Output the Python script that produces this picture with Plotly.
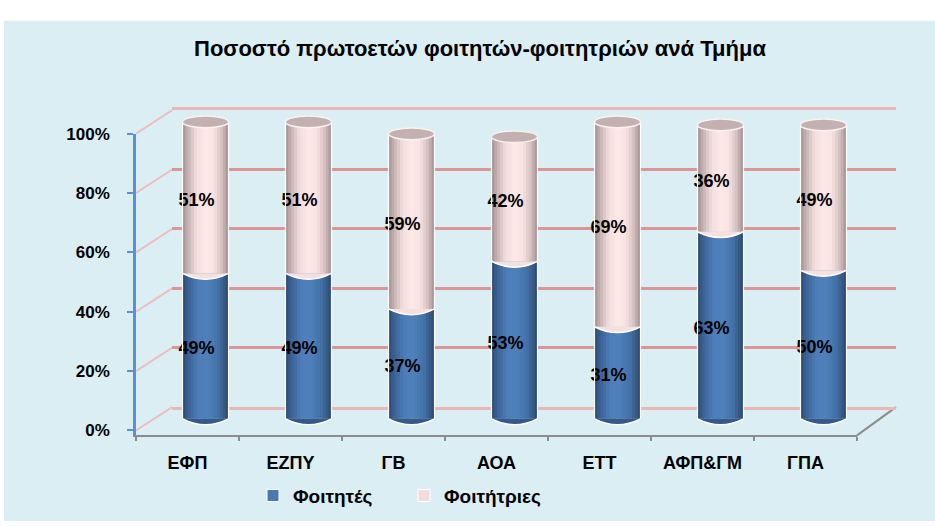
import plotly.graph_objects as go

# ---------------- data ----------------
categories = ["ΕΦΠ", "ΕΖΠΥ", "ΓΒ", "ΑΟΑ", "ΕΤΤ", "ΑΦΠ&ΓΜ", "ΓΠΑ"]
male = [0.49, 0.49, 0.37, 0.53, 0.31, 0.63, 0.50]     # Φοιτητές
female = [0.51, 0.51, 0.59, 0.42, 0.69, 0.36, 0.49]   # Φοιτήτριες
y_ticks = [0, 0.2, 0.4, 0.6, 0.8, 1.0]
title_text = "Ποσοστό πρωτοετών φοιτητών-φοιτητριών ανά Τμήμα"
series_names = ["Φοιτητές", "Φοιτήτριες"]

# ---------------- geometry helpers ----------------
W, H = 935, 526
FONT = "Liberation Sans, Arial, sans-serif"


def px(x):
    return x / W


def py(y):
    return 1 - y / H


SCALE = 305.0  # pixels per 100%


def ydomain(y0px, r0, r1):
    bottom = y0px - r0 * SCALE
    top = y0px - r1 * SCALE
    return [py(bottom), py(top)]


def gradient(stops, n):
    """stops: list of (pos, hex); returns n colours sampled at strip centres"""
    def h2rgb(h):
        h = h.lstrip("#")
        return [int(h[k:k + 2], 16) for k in (0, 2, 4)]
    out = []
    for i in range(n):
        t = (i + 0.5) / n
        for (p0, c0), (p1, c1) in zip(stops[:-1], stops[1:]):
            if p0 <= t <= p1:
                a = (t - p0) / (p1 - p0)
                r0, r1 = h2rgb(c0), h2rgb(c1)
                out.append("rgb(%d,%d,%d)" % tuple(round(r0[k] + (r1[k] - r0[k]) * a) for k in range(3)))
                break
    return out


BAR_W = 0.447          # in category units
CAP_H = 12 / SCALE     # ellipse height in value units
NSTRIP = 16
blue_grad = gradient([(0, "#2b4a72"), (0.12, "#3b6294"), (0.35, "#4d7eb9"), (0.55, "#4f80bb"),
                      (0.78, "#4370a6"), (0.92, "#35587f"), (1, "#2a466a")], NSTRIP)
pink_grad = gradient([(0, "#a38f8f"), (0.12, "#c6b2b2"), (0.3, "#f2dcdc"), (0.5, "#fee9e9"),
                      (0.68, "#f8e2e2"), (0.85, "#d6c1c1"), (1, "#a18e8e")], NSTRIP)

fig = go.Figure()

# placeholder trace so that the back-wall subplot is drawn
fig.add_trace(go.Scatter(x=[None], y=[None], xaxis="x", yaxis="y", showlegend=False,
                         hoverinfo="skip", mode="markers"))

# legend entries
fig.add_trace(go.Bar(x=[None], y=[None], name=series_names[0], xaxis="x2", yaxis="y2",
                     marker=dict(color="#4a78b4", line=dict(color="white", width=1))))
fig.add_trace(go.Bar(x=[None], y=[None], name=series_names[1], xaxis="x2", yaxis="y2",
                     marker=dict(color="#f2dcdb", line=dict(color="white", width=1))))

# cylinder bodies as vertical gradient strips
sw = BAR_W / NSTRIP
for vals, base, grad in [(male, None, blue_grad), (female, male, pink_grad)]:
    for i in range(NSTRIP):
        fig.add_trace(go.Bar(
            x=categories, y=vals, base=base,
            offset=-BAR_W / 2 + i * sw,
            width=sw * 1.5 if i < NSTRIP - 1 else sw,
            marker=dict(color=grad[i], line=dict(width=0)),
            xaxis="x2", yaxis="y2", showlegend=False, hoverinfo="skip"))

# placeholder trace for the front axes subplot
fig.add_trace(go.Scatter(x=categories, y=[None] * len(categories), xaxis="x3", yaxis="y3",
                         showlegend=False, hoverinfo="skip", mode="markers"))

# data labels
fig.add_trace(go.Scatter(
    x=categories, y=[m / 2 for m in male], mode="text",
    text=[f"{round(m * 100)}%" for m in male],
    textfont=dict(family=FONT, size=18, color="black", weight="bold"),
    xaxis="x4", yaxis="y4", showlegend=False, hoverinfo="skip"))
fig.add_trace(go.Scatter(
    x=categories, y=[m + f / 2 for m, f in zip(male, female)], mode="text",
    text=[f"{round(f * 100)}%" for f in female],
    textfont=dict(family=FONT, size=18, color="black", weight="bold"),
    xaxis="x4", yaxis="y4", showlegend=False, hoverinfo="skip"))

shapes = []
# chart background box
shapes.append(dict(type="rect", xref="paper", yref="paper", x0=px(4), x1=1, y0=0, y1=py(12),
                   fillcolor="#dbeef4", line=dict(width=0), layer="below"))
# side wall gridlines (front tick -> back wall)
for v in y_ticks:
    shapes.append(dict(type="line", xref="paper", yref="paper",
                       x0=px(136), y0=py(433 - v * SCALE), x1=px(172), y1=py(409 - v * SCALE),
                       line=dict(color="#efbdbd", width=2), layer="below"))
# floor right edge
shapes.append(dict(type="line", xref="paper", yref="paper",
                   x0=px(857), y0=py(438), x1=px(896), y1=py(409),
                   line=dict(color="#8c8c8c", width=2), layer="below"))

# cylinder caps and edges
for i, (m, f) in enumerate(zip(male, female)):
    xl, xr = i - BAR_W / 2, i + BAR_W / 2
    top = m + f
    hh = CAP_H / 2
    # bottom lens
    shapes.append(dict(type="path", xref="x2", yref="y2",
                       path=f"M{xl},0 Q{i},{-2 * hh} {xr},0 Z",
                       fillcolor="#36598a", line=dict(width=0), layer="above"))
    shapes.append(dict(type="path", xref="x2", yref="y2",
                       path=f"M{xl},0 Q{i},{-2 * hh} {xr},0",
                       line=dict(color="white", width=1.5), layer="above"))
    # boundary lens between series
    shapes.append(dict(type="path", xref="x2", yref="y2",
                       path=f"M{xl},{m} Q{i},{m - 2 * hh} {xr},{m} Z",
                       fillcolor="#f5e0e0", line=dict(width=0), layer="above"))
    shapes.append(dict(type="path", xref="x2", yref="y2",
                       path=f"M{xl},{m} Q{i},{m - 2 * hh} {xr},{m}",
                       line=dict(color="white", width=1.5), layer="above"))
    # side edges
    for xe in (xl, xr):
        shapes.append(dict(type="line", xref="x2", yref="y2", x0=xe, x1=xe, y0=0, y1=top,
                           line=dict(color="white", width=1.2), layer="above"))
    # top ellipse
    shapes.append(dict(type="circle", xref="x2", yref="y2",
                       x0=xl, x1=xr, y0=top - hh, y1=top + hh,
                       fillcolor="#c3b0b0", line=dict(color="#fbf1f1", width=1.5), layer="above"))

axis_font = dict(family=FONT, size=17, color="black", weight="bold")
cat_font = dict(family=FONT, size=18, color="black", weight="bold")

fig.update_layout(
    width=W, height=H,
    margin=dict(l=0, r=0, t=0, b=0),
    paper_bgcolor="white", plot_bgcolor="rgba(0,0,0,0)",
    barmode="overlay",
    title=dict(text=title_text, x=px(480), y=py(48), xanchor="center", yanchor="middle",
               font=dict(family=FONT, size=22, color="black", weight="bold")),
    showlegend=True,
    legend=dict(orientation="h", x=px(253), xanchor="left", y=py(500), yanchor="middle",
                font=dict(family=FONT, size=19, color="black", weight="bold"),
                bgcolor="rgba(0,0,0,0)", entrywidth=106, entrywidthmode="pixels"),
    shapes=shapes,
    # back wall grid
    xaxis=dict(domain=[px(172), px(896)], range=[0, 1], showgrid=False, zeroline=False,
               showticklabels=False, ticks="", showline=True, mirror=True,
               linecolor="#ebb6b6", linewidth=3, fixedrange=True),
    yaxis=dict(domain=[py(409), py(104)], range=[0, 1], tickvals=y_ticks, showgrid=True,
               gridcolor="#d99694", gridwidth=3, zeroline=False, showticklabels=False,
               ticks="", showline=False, fixedrange=True),
    # bars
    xaxis2=dict(domain=[px(154), px(875)], range=[-0.5, 6.5], anchor="y2", visible=False,
                type="category", categoryorder="array", categoryarray=categories),
    yaxis2=dict(domain=ydomain(421, -0.05, 1.05), range=[-0.05, 1.05], anchor="x2", visible=False),
    # front axes
    xaxis3=dict(domain=[px(136), px(857)], range=[-0.5, 6.5], anchor="y3", type="category",
                categoryorder="array", categoryarray=categories, tickvals=categories,
                tickson="boundaries", ticks="outside", ticklen=4, tickcolor="#8c8c8c", tickwidth=2,
                showline=True, linecolor="#8c8c8c", linewidth=2, showgrid=False,
                tickfont=cat_font, ticklabelstandoff=10),
    yaxis3=dict(domain=[py(438), py(128)], range=[-5 / SCALE, 1], anchor="x3", tickvals=y_ticks,
                tickformat=".0%", ticks="outside", ticklen=6, tickcolor="#5b8fd6", tickwidth=2,
                showline=True, linecolor="#5b8fd6", linewidth=2.5, showgrid=False, zeroline=False,
                tickfont=axis_font, ticklabelstandoff=14),
    # data labels
    xaxis4=dict(domain=[px(145), px(866)], range=[-0.5, 6.5], anchor="y4", visible=False,
                type="category", categoryorder="array", categoryarray=categories),
    yaxis4=dict(domain=ydomain(425, -0.05, 1.05), range=[-0.05, 1.05], anchor="x4", visible=False),
)

fig.write_html("out.html", config={"displayModeBar": False},
               post_script="document.body.style.margin='0';")
